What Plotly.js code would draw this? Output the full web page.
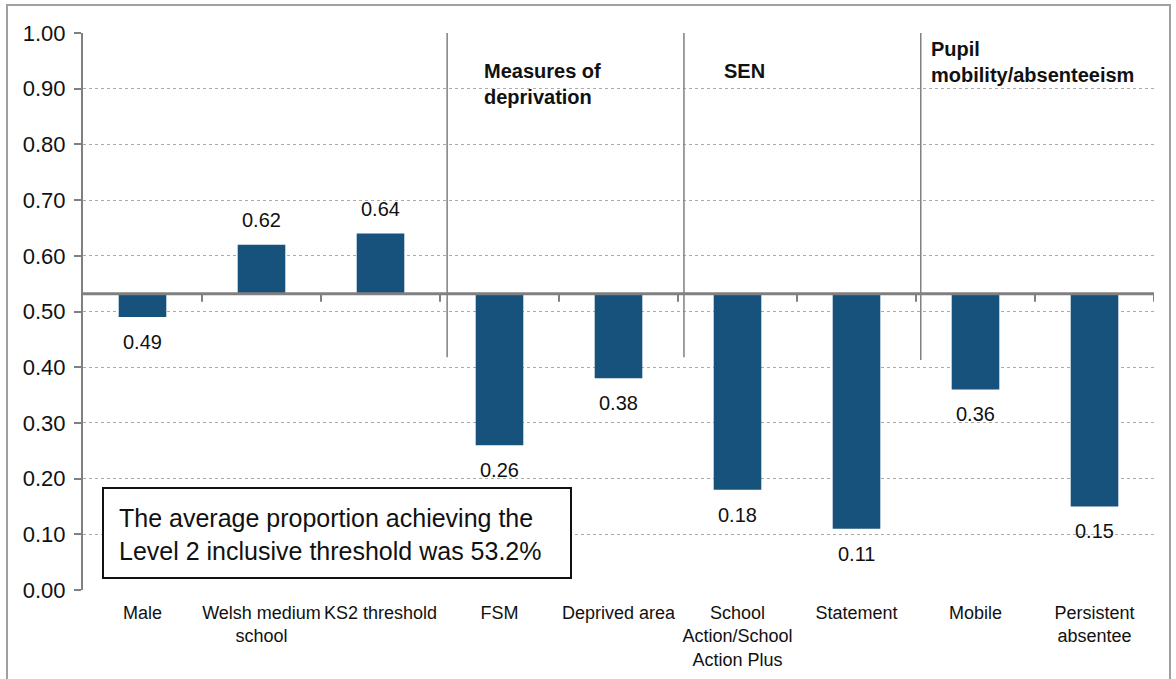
<!DOCTYPE html>
<html>
<head>
<meta charset="utf-8">
<script src="https://cdn.plot.ly/plotly-3.0.1.min.js"></script>
<style>html,body{margin:0;padding:0;background:#fff;}#chart{width:1176px;height:679px;}</style>
</head>
<body>
<div id="chart"></div>
<script>
const categories = ["Male", "Welsh medium<br>school", "KS2 threshold", "FSM", "Deprived area",
  "School<br>Action/School<br>Action Plus", "Statement", "Mobile", "Persistent<br>absentee"];
const values = [0.49, 0.62, 0.64, 0.26, 0.38, 0.18, 0.11, 0.36, 0.15];
const average = 0.532;
const groupLabels = ["Measures of<br>deprivation", "SEN", "Pupil<br>mobility/absenteeism"];
const groupLabelX = [2.85, 4.87, 6.61];
const groupLabelY = [0.955, 0.955, 0.995];
const separatorX = [2.56, 4.55, 6.54];
const separatorTop = [1.02, 1.0, 1.01];
const separatorBottom = [0.418, 0.418, 0.413];
const noteText = "The average proportion achieving the<br>Level 2 inclusive threshold was 53.2%";

const barColor = "#17527c";
const fontFam = "Liberation Sans, Arial, sans-serif";

const xIdx = categories.map((c, i) => i);

const trace = {
  type: "bar",
  x: xIdx,
  y: values.map(v => v - average),
  base: average,
  width: 0.4,
  marker: {color: barColor, line: {width: 0}},
  hoverinfo: "skip"
};

const shapes = [];
shapes.push({type: "line", xref: "paper", yref: "y", x0: 0, x1: 1, y0: average, y1: average,
  line: {color: "#808080", width: 3}, layer: "above"});
for (let i = 0; i < categories.length; i++) {
  shapes.push({type: "line", xref: "x", yref: "y", x0: i + 0.5, x1: i + 0.5, y0: -8, y1: 0,
    ysizemode: "pixel", yanchor: average, line: {color: "#808080", width: 2}});
}
separatorX.forEach((sx, k) => {
  shapes.push({type: "line", xref: "x", yref: "y", x0: sx, x1: sx, y0: separatorBottom[k], y1: separatorTop[k],
    line: {color: "#808080", width: 1.5}});
});
shapes.push({type: "rect", xref: "paper", yref: "paper",
  x0: (7 - 83) / 1071, x1: (1170 - 83) / 1071, y0: (590 - 682) / 557, y1: (590 - 5) / 557,
  line: {color: "#a0a0a0", width: 2}, fillcolor: "rgba(0,0,0,0)", layer: "below"});

const annotations = [];
values.forEach((v, i) => {
  annotations.push({x: i, y: v, xref: "x", yref: "y", text: v.toFixed(2), showarrow: false,
    yshift: v >= average ? 25 : -25, font: {family: fontFam, size: 20, color: "#111"}});
});
groupLabels.forEach((g, k) => {
  annotations.push({x: groupLabelX[k], y: groupLabelY[k], xref: "x", yref: "y", text: "<b>" + g + "</b>",
    showarrow: false, xanchor: "left", yanchor: "top", align: "left",
    font: {family: fontFam, size: 20, color: "#111"}});
});
annotations.push({xref: "paper", yref: "y", x: (337 - 83) / 1071, y: (590 - 533) / 557,
  xanchor: "center", yanchor: "middle",
  text: noteText, showarrow: false, align: "left", valign: "top", width: 436, height: 58,
  bordercolor: "#111", borderwidth: 2, borderpad: 15, bgcolor: "#fff",
  font: {family: fontFam, size: 25, color: "#111"}});

const layout = {
  width: 1176, height: 679,
  margin: {l: 83, r: 22, t: 33, b: 89},
  paper_bgcolor: "#fff", plot_bgcolor: "#fff",
  showlegend: false,
  xaxis: {
    tickmode: "array", tickvals: xIdx, ticktext: categories,
    range: [-0.5, categories.length - 0.5],
    showgrid: false, zeroline: false, showline: false, ticks: "",
    ticklabelstandoff: 10,
    tickfont: {family: fontFam, size: 18, color: "#111"}
  },
  yaxis: {
    range: [0, 1.0], dtick: 0.1, tick0: 0, tickformat: ".2f",
    showgrid: true, gridcolor: "#aaa", griddash: "dot", gridwidth: 1,
    zeroline: false, showline: true, linecolor: "#808080", linewidth: 2,
    ticks: "outside", ticklen: 7, tickcolor: "#808080", tickwidth: 2,
    ticklabelstandoff: 4,
    tickfont: {family: fontFam, size: 22, color: "#111"}
  },
  shapes: shapes,
  annotations: annotations
};

Plotly.newPlot("chart", [trace], layout, {displayModeBar: false, staticPlot: true});
</script>
</body>
</html>
